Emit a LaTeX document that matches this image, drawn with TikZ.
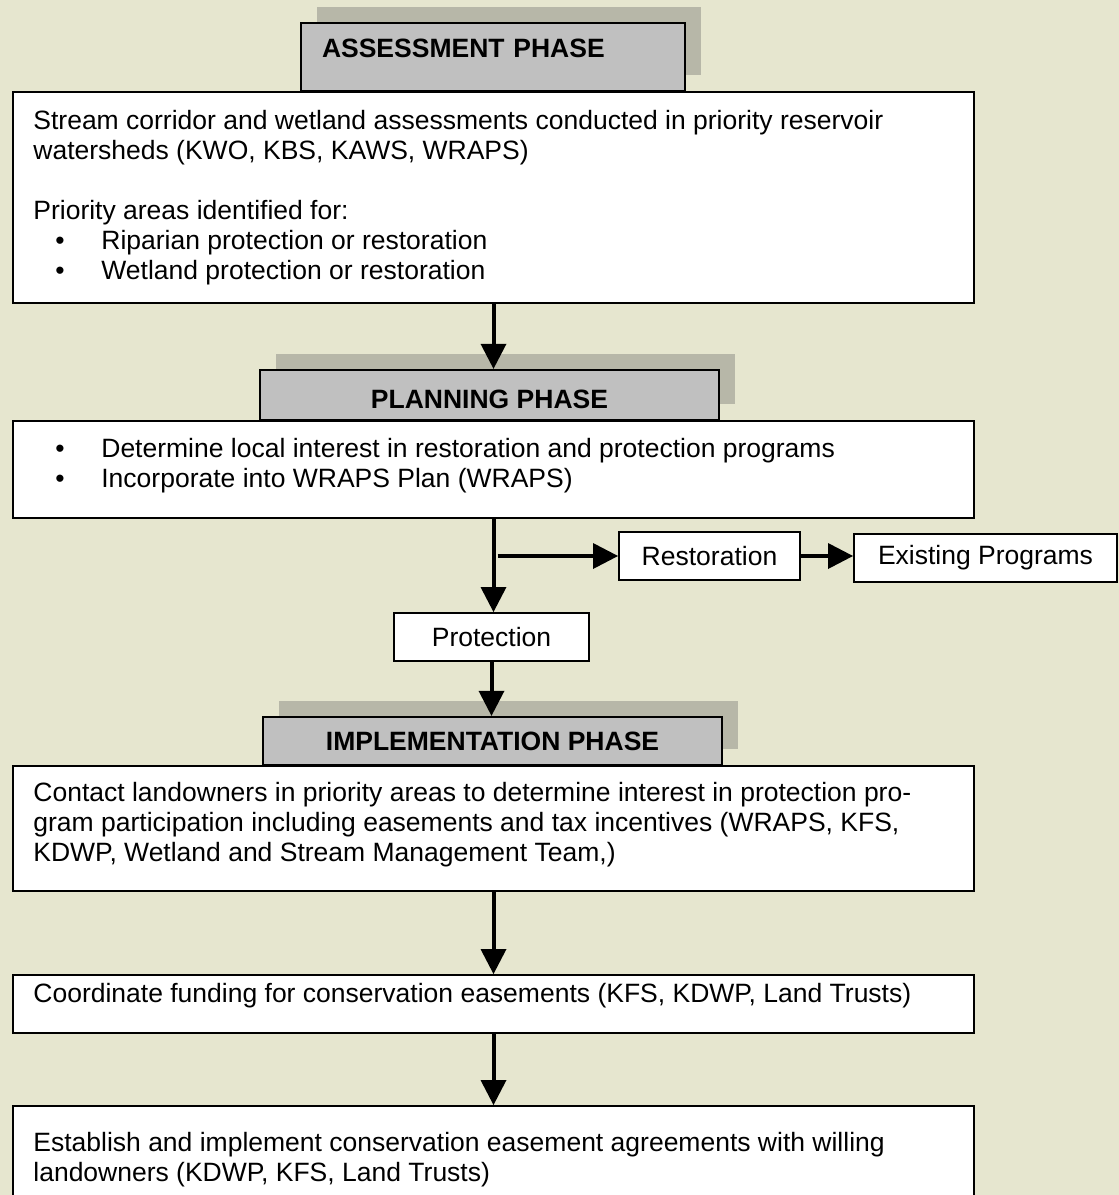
\documentclass[tikz,border=0pt]{standalone}
\usepackage{fontspec}
\setmainfont{Liberation Sans}
\usetikzlibrary{shadows}

\definecolor{pagebg}{RGB}{230,230,207}
\definecolor{headgray}{RGB}{192,192,192}
\definecolor{shadowgray}{RGB}{183,183,168}

\newcommand{\phasebullet}[1]{\hspace*{11pt}\makebox[23pt][l]{\textbullet}#1}

\begin{document}
\begin{tikzpicture}[x=0.5pt,y=-0.5pt]
	\tikzstyle{every node}+=[inner sep=0pt]
	\tikzset{
		phasehead/.style={draw=black, line width=1.2pt, fill=headgray,
			font=\fontsize{13.25}{15}\selectfont\bfseries,
			drop shadow={shadow xshift=8pt, shadow yshift=8pt, fill=shadowgray, opacity=1}},
		stagebox/.style={draw=black, line width=1pt, fill=white},
		smallbox/.style={stagebox, font=\fontsize{13.25}{15}\selectfont, minimum height=24pt},
		bodytext/.style={align=left, anchor=north west, font=\fontsize{13.25}{15}\selectfont},
		flow/.style={black, line width=2pt}
	}
	\useasboundingbox (0,0) rectangle (1119,1195);
	\clip (0,0) rectangle (1119,1195);
	\fill [pagebg] (0,0) rectangle (1119,1195);
	% assessment
	\node [stagebox, anchor=north west, minimum width=480.5pt, minimum height=105.5pt] (assess) at (12,91) {};
	\node [phasehead, minimum width=192pt, minimum height=34pt, text width=171pt, align=left] (assesshead) at (493,57) {\raisebox{4.25pt}[\height][\depth]{ASSESSMENT PHASE}};
	\node [bodytext] (assesstext) at (33,110) {Stream corridor and wetland assessments conducted in priority reservoir\\
		watersheds (KWO, KBS, KAWS, WRAPS)\\[15pt]
		Priority areas identified for:\\
		\phasebullet{Riparian protection or restoration}\\
		\phasebullet{Wetland protection or restoration}};
	% planning
	\node [stagebox, anchor=north west, minimum width=480.5pt, minimum height=48.5pt] (plan) at (12,420) {};
	\node [phasehead, minimum width=229.5pt, minimum height=25pt] (planhead) at (489.5,395) {\raisebox{-2pt}[\height][\depth]{PLANNING PHASE}};
	\node [bodytext] (plantext) at (33,438) {\phasebullet{Determine local interest in restoration and protection programs}\\
		\phasebullet{Incorporate into WRAPS Plan (WRAPS)}};
	\node [smallbox, minimum width=90.5pt] (restore) at (709.5,556) {Restoration};
	\node [smallbox, minimum width=131.5pt] (exist) at (985.5,558) {Existing Programs};
	\node [smallbox, minimum width=97.5pt] (protect) at (491.5,637) {Protection};
	% implementation
	\node [stagebox, anchor=north west, minimum width=480.5pt, minimum height=62.5pt] (impl) at (12,765) {};
	\node [phasehead, minimum width=229.5pt, minimum height=24pt] (implhead) at (492.5,741) {IMPLEMENTATION PHASE};
	\node [bodytext] (impltext) at (33,782) {Contact landowners in priority areas to determine interest in protection pro-\\
		gram participation including easements and tax incentives (WRAPS, KFS,\\
		KDWP, Wetland and Stream Management Team,)};
	\node [stagebox, anchor=north west, minimum width=480.5pt, minimum height=29pt] (fund) at (12,974) {};
	\node [bodytext] (fundtext) at (33,983) {Coordinate funding for conservation easements (KFS, KDWP, Land Trusts)};
	\node [stagebox, anchor=north west, minimum width=480.5pt, minimum height=60pt] (easement) at (12,1105) {};
	\node [bodytext] (easementtext) at (33,1132) {Establish and implement conservation easement agreements with willing\\
		landowners (KDWP, KFS, Land Trusts)};
	% arrows
	\coordinate (tipa) at (assess.south |- planhead.north);
	\draw [flow] (assess.south) -- ([yshift=12.5pt]tipa);
	\fill [black] (tipa) -- ++(-13,-25) -- ++(26,0);
	\coordinate (tipb) at (plan.south |- protect.north);
	\draw [flow] (plan.south) -- ([yshift=12.5pt]tipb);
	\fill [black] (tipb) -- ++(-13,-25) -- ++(26,0);
	\coordinate (split) at (plan.south |- restore.west);
	\draw [flow] ([xshift=2pt]split) -- ([xshift=-12.5pt]restore.west);
	\fill [black] (restore.west) -- ++(-25,-13) -- ++(0,26);
	\coordinate (tipc) at (restore.east -| exist.west);
	\draw [flow] (restore.east) -- ([xshift=-12.5pt]tipc);
	\fill [black] (tipc) -- ++(-25,-13) -- ++(0,26);
	\coordinate (tipd) at (protect.south |- implhead.north);
	\draw [flow] (protect.south) -- ([yshift=12.5pt]tipd);
	\fill [black] (tipd) -- ++(-13,-25) -- ++(26,0);
	\coordinate (tipe) at (impl.south |- fund.north);
	\draw [flow] (impl.south) -- ([yshift=12.5pt]tipe);
	\fill [black] (tipe) -- ++(-13,-25) -- ++(26,0);
	\coordinate (tipf) at (fund.south |- easement.north);
	\draw [flow] (fund.south) -- ([yshift=12.5pt]tipf);
	\fill [black] (tipf) -- ++(-13,-25) -- ++(26,0);
\end{tikzpicture}
\end{document}
